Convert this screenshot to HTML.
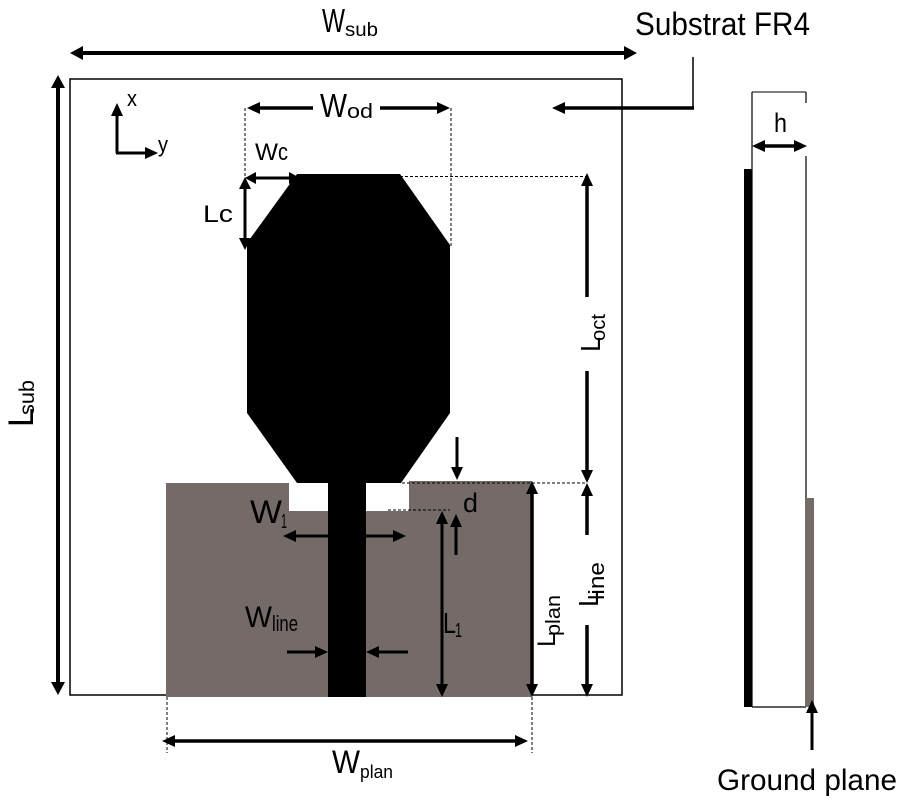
<!DOCTYPE html>
<html><head><meta charset="utf-8"><style>
html,body{margin:0;padding:0;background:#fff;}
svg{display:block;}
text{font-family:"Liberation Sans",Arial,sans-serif;fill:#000;}
</style></head><body>
<svg width="900" height="800" viewBox="0 0 900 800" xmlns="http://www.w3.org/2000/svg">
<rect width="900" height="800" fill="#fff"/>
<!-- substrate -->
<rect x="70" y="79" width="552" height="616" fill="none" stroke="#000" stroke-width="1.5"/>

<!-- ground plane -->
<polygon points="166,483 289,483 289,511 409,511 409,481 532,481 532,697 166,697" fill="#746a67"/>
<!-- octagon -->
<polygon points="297,174 400,174 450,245 450,413 401,483 297,483 247,413 247,243" fill="#000"/>
<!-- feed line -->
<rect x="328" y="480" width="38" height="217" fill="#000"/>

<g stroke="#000" fill="none">
 <!-- dashed guides -->
 <g stroke-width="1" stroke-dasharray="3,2">
  <line x1="245" y1="108" x2="245" y2="178"/>
  <line x1="451" y1="108" x2="451" y2="248"/>
  <line x1="400" y1="176.5" x2="587" y2="176.5"/>
  <line x1="402" y1="483" x2="587" y2="483"/>
  <line x1="388" y1="510" x2="450" y2="510"/>
  <line x1="167" y1="697" x2="167" y2="753"/>
  <line x1="532" y1="697" x2="532" y2="753"/>
 </g>
 <!-- Wsub -->
 <line x1="80" y1="53" x2="627" y2="53" stroke-width="4"/>
 <!-- Lsub -->
 <line x1="58" y1="85" x2="58" y2="685" stroke-width="4"/>
 <!-- axes -->
 <line x1="117" y1="153" x2="117" y2="113" stroke-width="3"/>
 <line x1="116" y1="153" x2="148" y2="153" stroke-width="3"/>
 <!-- Wod -->
 <line x1="255" y1="108" x2="313" y2="108" stroke-width="3.5"/>
 <line x1="380" y1="108" x2="440" y2="108" stroke-width="3.5"/>
 <!-- Wc -->
 <line x1="252" y1="178" x2="292" y2="178" stroke-width="3"/>
 <!-- Lc -->
 <line x1="245" y1="186" x2="245" y2="242" stroke-width="3"/>
 <!-- Loct -->
 <line x1="587" y1="183" x2="587" y2="297" stroke-width="3.5"/>
 <line x1="587" y1="371" x2="587" y2="473" stroke-width="3.5"/>
 <!-- Lline -->
 <line x1="587" y1="493" x2="587" y2="535" stroke-width="3.5"/>
 <line x1="587" y1="625" x2="587" y2="687" stroke-width="3.5"/>
 <!-- d -->
 <line x1="457" y1="437" x2="457" y2="470" stroke-width="3"/>
 <line x1="456" y1="555" x2="456" y2="524" stroke-width="3"/>
 <!-- L1 -->
 <line x1="442" y1="521" x2="442" y2="687" stroke-width="3"/>
 <!-- Lplan -->
 <line x1="532" y1="491" x2="532" y2="687" stroke-width="3.5"/>
 <!-- W1 -->
 <line x1="293" y1="536" x2="328" y2="536" stroke-width="3"/>
 <line x1="366" y1="536" x2="396" y2="536" stroke-width="3"/>
 <!-- Wline -->
 <line x1="287" y1="652" x2="318" y2="652" stroke-width="3"/>
 <line x1="408" y1="652" x2="376" y2="652" stroke-width="3"/>
 <!-- Wplan -->
 <line x1="172" y1="741" x2="518" y2="741" stroke-width="3.5"/>
 <!-- leader -->
 <line x1="693" y1="57" x2="693" y2="108" stroke-width="1.5"/>
 <line x1="694" y1="108" x2="562" y2="108" stroke-width="3.5"/>
 <!-- side view -->
 <line x1="752" y1="92" x2="806" y2="92" stroke-width="1"/>
 <line x1="752" y1="92" x2="752" y2="707" stroke-width="1.2"/>
 <line x1="806" y1="92" x2="806" y2="103" stroke-width="1.2"/>
 <line x1="806" y1="156" x2="806" y2="498" stroke-width="1.2"/>
 <line x1="752" y1="707" x2="806" y2="707" stroke-width="1.2"/>
 <line x1="762" y1="146" x2="797" y2="146" stroke-width="3.5"/>
 <line x1="812" y1="750" x2="812" y2="710" stroke-width="3"/>
</g>
<!-- side bars -->
<rect x="744" y="169" width="8" height="538" fill="#000"/>
<rect x="805" y="498" width="9" height="209" fill="#746a67"/>

<!-- arrowheads -->
<g fill="#000">
 <!-- Wsub -->
 <polygon points="70,53 83,46 83,60"/>
 <polygon points="637,53 624,46 624,60"/>
 <!-- Lsub -->
 <polygon points="58,75 51,88 65,88"/>
 <polygon points="58,695 51,682 65,682"/>
 <!-- axes -->
 <polygon points="117,103 111,116 123,116"/>
 <polygon points="158,153 145,147 145,159"/>
 <!-- Wod -->
 <polygon points="247,108 260,102 260,114"/>
 <polygon points="450,108 437,102 437,114"/>
 <!-- Wc -->
 <polygon points="245,178 256,172 256,184"/>
 <polygon points="300,178 289,172 289,184"/>
 <!-- Lc -->
 <polygon points="245,177 239,189 251,189"/>
 <polygon points="245,250 239,238 251,238"/>
 <!-- Loct -->
 <polygon points="587,173 581,186 593,186"/>
 <polygon points="587,483 581,470 593,470"/>
 <!-- Lline -->
 <polygon points="587,483 581,496 593,496"/>
 <polygon points="587,697 581,684 593,684"/>
 <!-- d -->
 <polygon points="457,480 451,467 463,467"/>
 <polygon points="456,514 450,527 462,527"/>
 <!-- L1 -->
 <polygon points="442,511 436,524 448,524"/>
 <polygon points="442,697 436,684 448,684"/>
 <!-- Lplan -->
 <polygon points="532,481 526,494 538,494"/>
 <polygon points="532,697 526,684 538,684"/>
 <!-- W1 -->
 <polygon points="283,536 296,530 296,542"/>
 <polygon points="406,536 393,530 393,542"/>
 <!-- Wline -->
 <polygon points="328,652 315,646 315,658"/>
 <polygon points="366,652 379,646 379,658"/>
 <!-- Wplan -->
 <polygon points="162,741 175,735 175,747"/>
 <polygon points="528,741 515,735 515,747"/>
 <!-- leader -->
 <polygon points="552,108 565,102 565,114"/>
 <!-- h -->
 <polygon points="752,146 765,140 765,152"/>
 <polygon points="807,146 794,140 794,152"/>
 <!-- ground plane -->
 <polygon points="812,700 806,713 818,713"/>
</g>

<!-- labels -->
<text x="322" y="32" font-size="33" textLength="23" lengthAdjust="spacingAndGlyphs">W</text>
<text x="345" y="36" font-size="19" textLength="33" lengthAdjust="spacingAndGlyphs">sub</text>

<text x="320" y="117" font-size="33" textLength="27" lengthAdjust="spacingAndGlyphs">W</text>
<text x="347" y="118" font-size="20" textLength="26" lengthAdjust="spacingAndGlyphs">od</text>

<text x="255" y="160" font-size="24" textLength="23" lengthAdjust="spacingAndGlyphs">W</text>
<text x="278" y="160" font-size="24" textLength="10" lengthAdjust="spacingAndGlyphs">c</text>

<text x="203" y="222" font-size="24" textLength="30" lengthAdjust="spacingAndGlyphs">Lc</text>

<text x="127" y="106" font-size="22" textLength="10" lengthAdjust="spacingAndGlyphs">x</text>
<text x="158" y="152" font-size="22" textLength="10" lengthAdjust="spacingAndGlyphs">y</text>

<text x="635" y="35" font-size="32" textLength="175" lengthAdjust="spacingAndGlyphs">Substrat FR4</text>

<text x="774" y="132" font-size="27" textLength="13" lengthAdjust="spacingAndGlyphs">h</text>
<text x="463" y="512" font-size="27" textLength="15" lengthAdjust="spacingAndGlyphs">d</text>

<text x="250" y="523" font-size="32" textLength="32" lengthAdjust="spacingAndGlyphs">W</text>
<text x="281" y="528" font-size="20" textLength="6" lengthAdjust="spacingAndGlyphs">1</text>

<text x="245" y="627" font-size="30" textLength="27" lengthAdjust="spacingAndGlyphs">W</text>
<text x="272" y="631" font-size="22" textLength="26" lengthAdjust="spacingAndGlyphs">line</text>

<text x="443" y="633" font-size="29" textLength="13" lengthAdjust="spacingAndGlyphs">L</text>
<text x="455" y="637" font-size="20" textLength="7" lengthAdjust="spacingAndGlyphs">1</text>

<text x="332" y="773" font-size="32" textLength="28" lengthAdjust="spacingAndGlyphs">W</text>
<text x="360" y="778" font-size="18" textLength="33" lengthAdjust="spacingAndGlyphs">plan</text>

<text x="717" y="790" font-size="30" textLength="180" lengthAdjust="spacingAndGlyphs">Ground plane</text>

<!-- rotated labels -->
<g transform="translate(33,427) rotate(-90)">
 <text x="0" y="0" font-size="35" textLength="19" lengthAdjust="spacingAndGlyphs">L</text>
 <text x="12" y="1" font-size="21" textLength="35" lengthAdjust="spacingAndGlyphs">sub</text>
</g>
<g transform="translate(600,352) rotate(-90)">
 <text x="0" y="0" font-size="28" textLength="15" lengthAdjust="spacingAndGlyphs">L</text>
 <text x="11" y="5" font-size="20" textLength="27" lengthAdjust="spacingAndGlyphs">oct</text>
</g>
<g transform="translate(555,647) rotate(-90)">
 <text x="0" y="0" font-size="25" textLength="14" lengthAdjust="spacingAndGlyphs">L</text>
 <text x="11" y="5" font-size="20" textLength="41" lengthAdjust="spacingAndGlyphs">plan</text>
</g>
<g transform="translate(598,607) rotate(-90)">
 <text x="0" y="0" font-size="28" textLength="15" lengthAdjust="spacingAndGlyphs">L</text>
 <text x="7" y="6" font-size="22" textLength="38" lengthAdjust="spacingAndGlyphs">line</text>
</g>
</svg>
</body></html>
